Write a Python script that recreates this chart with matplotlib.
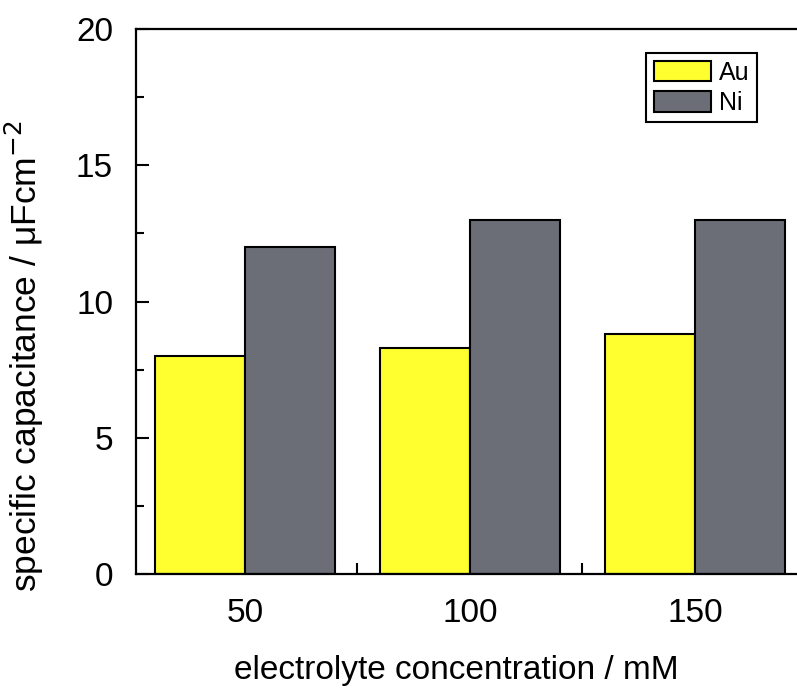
import numpy as np
import matplotlib.pyplot as plt
from matplotlib.ticker import MultipleLocator, FixedLocator

plt.rcParams['font.family'] = ['Liberation Sans', 'DejaVu Sans']

# data
conc = [50, 100, 150]
au_vals = [8.0, 8.3, 8.8]
ni_vals = [12.0, 13.0, 13.0]

fig = plt.figure(figsize=(7.97, 6.92), dpi=100)
ax = fig.add_axes([0.1706, 0.1705, 0.838, 0.7875])

x = np.array(conc)
w = 20
ax.bar(x - w/2, au_vals, w, color='#ffff30', edgecolor='black', linewidth=1.5, label='Au', zorder=2)
ax.bar(x + w/2, ni_vals, w, color='#6b6e77', edgecolor='black', linewidth=1.5, label='Ni', zorder=2)

ax.set_xlim(25.8, 174.2)
ax.set_ylim(0, 20)
ax.set_xticks(conc)
ax.xaxis.set_minor_locator(FixedLocator([75, 125]))
ax.yaxis.set_major_locator(MultipleLocator(5))
ax.yaxis.set_minor_locator(MultipleLocator(2.5))

ax.tick_params(axis='both', which='both', direction='in', width=1.5, labelsize=24)
ax.tick_params(axis='y', which='major', length=9, pad=16.5)
ax.tick_params(axis='y', which='minor', length=6)
ax.tick_params(axis='x', which='major', length=0, pad=17)
ax.tick_params(axis='x', which='minor', length=8)
for s in ax.spines.values():
    s.set_linewidth(1.6)

ax.set_xlabel('electrolyte concentration / mM', fontsize=24)
ax.xaxis.set_label_coords(0.48, -0.148)
ax.set_ylabel('specific capacitance / μFcm$^{-2}$', fontsize=25.5)
ax.yaxis.set_label_coords(-0.134, 0.40)

leg = ax.legend(loc='upper right', bbox_to_anchor=(0.93, 0.956), fontsize=18,
                fancybox=False, edgecolor='black', framealpha=1,
                handlelength=2.3, handleheight=0.9, handletextpad=0.3,
                borderpad=0.3, labelspacing=0.25, borderaxespad=0)
leg.get_frame().set_linewidth(1.5)

fig.savefig('out.png', dpi=100)
